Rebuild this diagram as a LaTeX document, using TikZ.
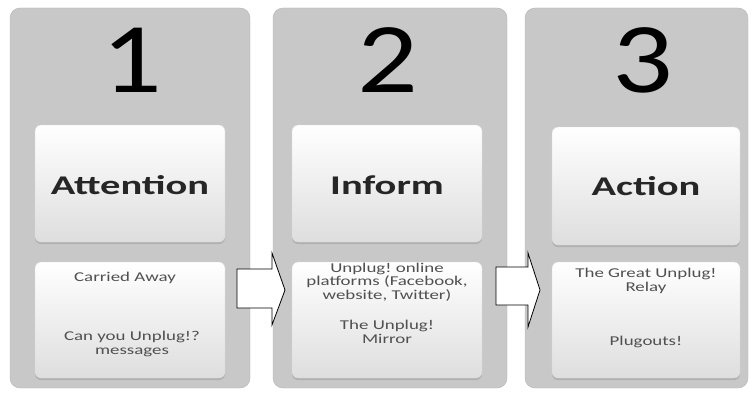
\documentclass[tikz,border=0pt]{standalone}
\usepackage{fontspec}
\setmainfont{Carlito}
\newfontfamily\numfont[FakeStretch=1.2]{Carlito}
\newfontfamily\headfont[FakeStretch=1.5]{Carlito}
\newfontfamily\smallfont[FakeStretch=1.4]{Carlito}
\usetikzlibrary{shadows}
\frenchspacing
\definecolor{panelgray}{RGB}{200,200,200}
\definecolor{boxbot}{RGB}{222,222,222}
\definecolor{txtgray}{RGB}{80,80,80}
\tikzset{
  panel/.style={fill=panelgray, draw=panelgray!90!black, line width=0.4pt, rounded corners=10pt},
  headbox/.style={rounded corners=6pt, top color=white, bottom color=boxbot, draw=white!85!black, line width=0.4pt,
    drop shadow={shadow xshift=0pt, shadow yshift=-2pt, fill=gray!70, opacity=0.7}},
  bignum/.style={font=\numfont\fontsize{100}{100}\selectfont, text=black, inner sep=0pt},
  headtxt/.style={font=\headfont\fontsize{27}{30}\selectfont\bfseries, text=black!85},
  smalltxt/.style={font=\smallfont\fontsize{13.5}{13.5}\selectfont\frenchspacing, text=txtgray, align=center, inner sep=0pt},
  blockarrow/.style={draw=black, fill=white, line width=0.8pt, line join=miter}
}
\begin{document}
\begin{tikzpicture}[x=1pt,y=-1pt]
\useasboundingbox (0,0) rectangle (754,401);
% panels
\draw[panel] (10,8) rectangle (250,388);
\draw[panel] (273,8) rectangle (507,388);
\draw[panel] (525,8) rectangle (748,388);
% numbers
\node[bignum] (n1) at (132,60) {1};
\node[bignum] (n2) at (388,60) {2};
\node[bignum] (n3) at (643,60) {3};
% head boxes
\draw[headbox] (35,125) rectangle (225,242);
\node[headtxt] (h1) at (130,185) {Attention};
\draw[headbox] (292,125) rectangle (482,242);
\node[headtxt] (h2) at (387,185) {Inform};
\draw[headbox] (552,127) rectangle (740,245);
\node[headtxt] (h3) at (646,186) {Action};
% bottom boxes
\draw[headbox] (35,262) rectangle (225,378);
\draw[headbox] (292,262) rectangle (482,378);
\draw[headbox] (552,262) rectangle (740,378);
% texts
\node[smalltxt] (t1a) at (125,278) {Carried Away};
\node[smalltxt] (t1b) at (132,344) {Can you Unplug!?\\messages};
\node[smalltxt] (t2a) at (387,282) {Unplug! online\\platforms (Facebook,\\website, Twitter)};
\node[smalltxt] (t2b) at (387,332) {The Unplug!\\Mirror};
\node[smalltxt] (t3a) at (646,281) {The Great Unplug!\\Relay};
\node[smalltxt] (t3b) at (646,342) {Plugouts!};
% arrows
\draw[blockarrow] (237,269) -- (272,269) -- (272,253) -- (285,290) -- (272,325) -- (272,308) -- (237,308) -- cycle;
\draw[blockarrow] (496,267) -- (528,267) -- (528,253) -- (540,290) -- (528,327) -- (528,305) -- (496,305) -- cycle;
\end{tikzpicture}
\end{document}
